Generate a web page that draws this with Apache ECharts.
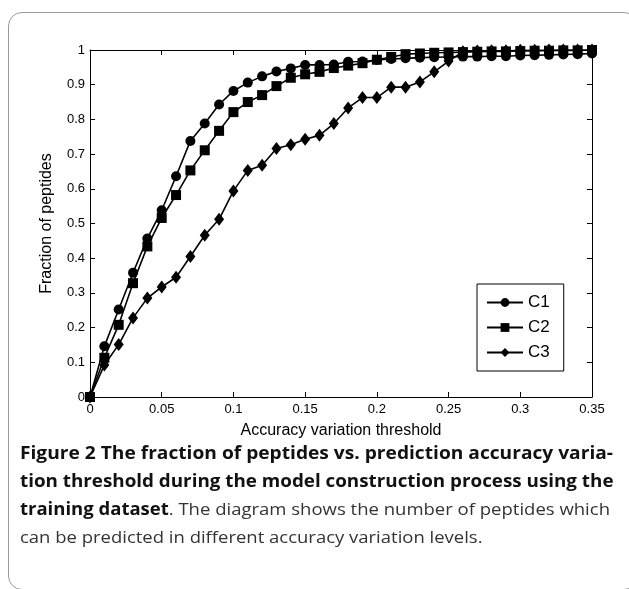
<!DOCTYPE html>
<html>
<head>
<meta charset="utf-8">
<script src="https://cdn.jsdelivr.net/npm/echarts@6/dist/echarts.min.js"></script>
<style>
html,body{margin:0;padding:0;background:#fff;width:629px;height:589px;overflow:hidden;}
#frame{position:absolute;left:8px;top:12px;width:630px;height:578px;border:1px solid #9a9a9a;border-radius:14px;box-sizing:border-box;}
#chart{position:absolute;left:0;top:0;width:629px;height:589px;}
.cap{position:absolute;left:20px;white-space:nowrap;font-family:"Open Sans","Noto Sans",sans-serif;font-size:17px;color:#333;transform-origin:0 50%;line-height:20px;}
.cap b{color:#111;font-weight:700;}
</style>
</head>
<body>
<div id="frame"></div>
<div id="chart"></div>
<div class="cap" id="l1" data-w="593" style="top:443px"><b>Figure 2 The fraction of peptides vs. prediction accuracy varia-</b></div>
<div class="cap" id="l2" data-w="593" style="top:471px"><b>tion threshold during the model construction process using the</b></div>
<div class="cap" id="l3" data-w="590" style="top:499px"><b>training dataset</b>. The diagram shows the number of peptides which</div>
<div class="cap" id="l4" data-w="463" style="top:527px">can be predicted in different accuracy variation levels.</div>
<script>
const xs = [0,0.01,0.02,0.03,0.04,0.05,0.06,0.07,0.08,0.09,0.10,0.11,0.12,0.13,0.14,0.15,0.16,0.17,0.18,0.19,0.20,0.21,0.22,0.23,0.24,0.25,0.26,0.27,0.28,0.29,0.30,0.31,0.32,0.33,0.34,0.35];
const c1 = [0,0.146,0.252,0.358,0.457,0.538,0.636,0.738,0.788,0.843,0.882,0.906,0.924,0.938,0.947,0.957,0.957,0.958,0.966,0.967,0.971,0.974,0.976,0.978,0.979,0.980,0.981,0.981,0.982,0.982,0.984,0.985,0.986,0.987,0.988,0.990];
const c2 = [0,0.113,0.208,0.328,0.434,0.516,0.582,0.653,0.711,0.767,0.821,0.850,0.870,0.896,0.920,0.930,0.937,0.948,0.955,0.962,0.972,0.980,0.988,0.990,0.992,0.993,0.994,0.995,0.996,0.996,0.997,0.998,0.998,0.999,0.999,1.000];
const c3 = [0,0.092,0.151,0.228,0.285,0.317,0.345,0.405,0.466,0.512,0.594,0.653,0.668,0.716,0.727,0.743,0.754,0.788,0.833,0.863,0.863,0.893,0.893,0.908,0.937,0.968,0.995,0.997,0.998,0.998,0.999,0.999,1.000,1.000,1.000,1.000];
const seriesNames = ['C1','C2','C3'];
const xTicks = [0,0.05,0.1,0.15,0.2,0.25,0.3,0.35];
const yTicks = [0,0.1,0.2,0.3,0.4,0.5,0.6,0.7,0.8,0.9,1];

const pairs = ys => xs.map((x,i)=>[x, ys[i]]);
const font = '"Liberation Sans", Arial, sans-serif';
const chart = echarts.init(document.getElementById('chart'), null, {renderer:'canvas'});
const axisCommon = {
  axisLine:{show:true, onZero:false, lineStyle:{color:'#000', width:1}},
  axisTick:{show:true, inside:true, length:5, lineStyle:{color:'#000'}},
  splitLine:{show:false}
};
const lab = v => (v===0?'0':String(v));
chart.setOption({
  animation:false,
  backgroundColor:'transparent',
  grid:{left:90, right:37, top:50, bottom:192, show:false},
  legend:{
    orient:'vertical', left:477, top:284, data:seriesNames,
    borderColor:'#000', borderWidth:1, padding:[10,14,10,9],
    itemWidth:36, itemHeight:11, itemGap:8,
    textStyle:{fontFamily:font, fontSize:17, color:'#000'},
    backgroundColor:'#fff'
  },
  xAxis:[
    Object.assign({type:'value', min:0, max:0.35, interval:0.05, position:'bottom',
      name:'Accuracy variation threshold', nameLocation:'middle', nameGap:26,
      nameTextStyle:{fontFamily:font, fontSize:16, color:'#000'},
      axisLabel:{fontFamily:font, fontSize:13, color:'#000', margin:6, formatter:lab}}, axisCommon),
    Object.assign({type:'value', min:0, max:0.35, interval:0.05, position:'top',
      axisLabel:{show:false}}, axisCommon)
  ],
  yAxis:[
    Object.assign({type:'value', min:0, max:1, interval:0.1, position:'left',
      name:'Fraction of peptides', nameLocation:'middle', nameGap:35,
      nameTextStyle:{fontFamily:font, fontSize:16, color:'#000'},
      axisLabel:{fontFamily:font, fontSize:13, color:'#000', margin:5, formatter:lab}}, axisCommon),
    Object.assign({type:'value', min:0, max:1, interval:0.1, position:'right',
      axisLabel:{show:false}}, axisCommon)
  ],
  series:[
    {name:'C1', type:'line', data:pairs(c1), symbol:'circle', symbolSize:10, showAllSymbol:true,
      lineStyle:{color:'#000', width:1.6}, itemStyle:{color:'#000'}},
    {name:'C2', type:'line', data:pairs(c2), symbol:'rect', symbolSize:10, showAllSymbol:true,
      lineStyle:{color:'#000', width:1.6}, itemStyle:{color:'#000'}},
    {name:'C3', type:'line', data:pairs(c3), symbol:'diamond', symbolSize:[10,13], showAllSymbol:true,
      lineStyle:{color:'#000', width:1.6}, itemStyle:{color:'#000'}}
  ]
});
document.querySelectorAll('.cap').forEach(el=>{
  const w = el.scrollWidth; const t = +el.dataset.w;
  el.style.transform = 'scaleX(' + (t/w) + ')';
});
</script>
</body>
</html>
